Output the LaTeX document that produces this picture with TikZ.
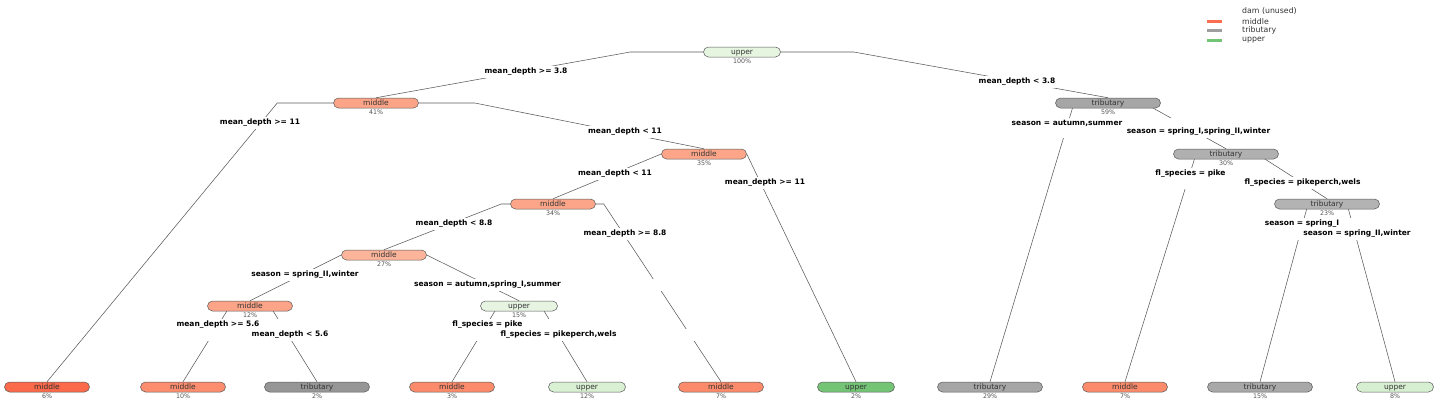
\documentclass[tikz,border=0pt]{standalone}
\usepackage{fontspec}
\setmainfont{DejaVu Sans}
\usetikzlibrary{calc}
\pgfdeclarelayer{edges}
\pgfdeclarelayer{masks}
\pgfsetlayers{edges,masks,main}
\definecolor{edgec}{HTML}{5A5A5A}
\definecolor{txtc}{HTML}{333333}
\definecolor{pctc}{HTML}{555555}
\definecolor{cU100}{HTML}{E5F5E0}
\definecolor{cM41}{HTML}{FCA487}
\definecolor{cT59}{HTML}{A6A6A6}
\definecolor{cM35}{HTML}{FCA588}
\definecolor{cT30}{HTML}{B0B0B0}
\definecolor{cT23}{HTML}{B3B3B3}
\definecolor{cM27}{HTML}{FCB49A}
\definecolor{cU15}{HTML}{E6F4E1}
\definecolor{cM6}{HTML}{FB6A4A}
\definecolor{cM10}{HTML}{FC8D6E}
\definecolor{cT2}{HTML}{969696}
\definecolor{cM3}{HTML}{FC8B6B}
\definecolor{cU12}{HTML}{D9F0D3}
\definecolor{cU2}{HTML}{74C476}
\definecolor{cT15}{HTML}{A8A8A8}
\definecolor{cU8}{HTML}{D7EFD1}
\definecolor{legM}{HTML}{FC6E50}
\definecolor{legT}{HTML}{9E9E9E}
\definecolor{legU}{HTML}{74C476}
\tikzset{
  tbox/.style={draw=black!65, line width=0.5pt, rounded corners=5pt, minimum height=10pt,
    inner sep=0pt, text height=5.6pt, text depth=1.4pt, text=txtc,
    font=\fontsize{7.5}{8}\selectfont},
  midbox/.style={tbox, minimum width=85pt},
  tribbox/.style={tbox, minimum width=105pt},
  uppbox/.style={tbox, minimum width=77pt},
  pct/.style={inner sep=0pt, text height=4.6pt, text depth=0pt, text=pctc, anchor=north,
    font=\fontsize{6.3}{7}\selectfont},
  elabtxt/.style={inner sep=0pt, text=black, font=\bfseries\fontsize{7.5}{8}\selectfont},
  edge/.style={draw=edgec, line width=0.55pt},
  legtxt/.style={anchor=west, inner sep=0pt, text=txtc, font=\fontsize{7.8}{9}\selectfont},
}
\newcommand{\tnd}[7]{%
  \node[#2, fill=#3] (#1) at (#4,#5) {#6};
  \node[pct] (#1p) at ([yshift=-1.4pt]#1.south) {#7};}
\newcommand{\elab}[4]{%
  \node[elabtxt] (#1) at (#2,#3) {#4};
  \begin{pgfonlayer}{masks}
  \fill[white] ($(#1.center)!2.5!(#1.west)+(0,-6)$) rectangle ($(#1.center)!2.5!(#1.east)+(0,6.5)$);
  \end{pgfonlayer}}
\begin{document}
\begin{tikzpicture}[x=1pt,y=-1pt]
\useasboundingbox (0,-1) rectangle (1447,414);
% internal nodes
\tnd{root}{uppbox}{cU100}{742}{51}{upper}{100\%}
\tnd{m41}{midbox}{cM41}{376}{102}{middle}{41\%}
\tnd{t59}{tribbox}{cT59}{1108}{102}{tributary}{59\%}
\tnd{m35}{midbox}{cM35}{704}{153}{middle}{35\%}
\tnd{t30}{tribbox}{cT30}{1226}{153}{tributary}{30\%}
\tnd{m34}{midbox}{cM35}{553}{203}{middle}{34\%}
\tnd{t23}{tribbox}{cT23}{1327}{203}{tributary}{23\%}
\tnd{m27}{midbox}{cM27}{384}{254}{middle}{27\%}
\tnd{m12}{midbox}{cM41}{250}{305}{middle}{12\%}
\tnd{u15}{uppbox}{cU15}{519}{305}{upper}{15\%}
% leaves
\tnd{l1}{midbox}{cM6}{47}{386}{middle}{6\%}
\tnd{l2}{midbox}{cM10}{183}{386}{middle}{10\%}
\tnd{l3}{tribbox}{cT2}{317}{386}{tributary}{2\%}
\tnd{l4}{midbox}{cM3}{452}{386}{middle}{3\%}
\tnd{l5}{uppbox}{cU12}{587}{386}{upper}{12\%}
\tnd{l6}{midbox}{cM3}{721}{386}{middle}{7\%}
\tnd{l7}{uppbox}{cU2}{856}{386}{upper}{2\%}
\tnd{l8}{tribbox}{cT59}{990}{386}{tributary}{29\%}
\tnd{l9}{midbox}{cM3}{1125}{386}{middle}{7\%}
\tnd{l10}{tribbox}{cT15}{1260}{386}{tributary}{15\%}
\tnd{l11}{uppbox}{cU8}{1395}{386}{upper}{8\%}
% edges
\begin{pgfonlayer}{edges}
\draw[edge] (root.west) -- +(-73,0) -- (m41.north);
\draw[edge] (root.east) -- +(73,0) -- (t59.north);
\draw[edge] (m41.west) -- +(-56,0) -- (l1.north);
\draw[edge] (m41.east) -- +(56,0) -- (m35.north);
\draw[edge] (m35.west) -- (m34.north);
\draw[edge] (m35.east) -- (l7.north);
\draw[edge] (m34.west) -- +(-9,0) -- (m27.north);
\draw[edge] (m34.east) -- +(8,0) -- (l6.north);
\draw[edge] (m27.west) -- (m12.north);
\draw[edge] (m27.east) -- (u15.north);
\draw[edge] ([xshift=-20pt]m12.center) -- (l2.north);
\draw[edge] ([xshift=20pt]m12.center) -- (l3.north);
\draw[edge] ([xshift=-21pt]u15.center) -- (l4.north);
\draw[edge] ([xshift=22pt]u15.center) -- (l5.north);
\draw[edge] ([xshift=-34pt]t59.center) -- (l8.north);
\draw[edge] ([xshift=36pt]t59.center) -- (t30.north);
\draw[edge] ([xshift=-30pt]t30.center) -- (l9.north);
\draw[edge] ([xshift=31pt]t30.center) -- (t23.north);
\draw[edge] ([xshift=-19pt]t23.center) -- (l10.north);
\draw[edge] ([xshift=20pt]t23.center) -- (l11.north);
\end{pgfonlayer}
% edge labels
\elab{e1}{526}{70.5}{mean\_depth >= 3.8}
\elab{e2}{1017}{80.5}{mean\_depth < 3.8}
\elab{e3}{260}{121.5}{mean\_depth >= 11}
\elab{e4}{625}{130.5}{mean\_depth < 11}
\elab{e5}{615}{172.5}{mean\_depth < 11}
\elab{e6}{765}{181.5}{mean\_depth >= 11}
\elab{e7}{454}{222.5}{mean\_depth < 8.8}
\elab{e8}{625}{232.5}{mean\_depth >= 8.8}
\elab{e9}{305}{273.5}{season = spring\_II,winter}
\elab{e10}{487.5}{283.5}{season = autumn,spring\_I,summer}
\elab{e11}{218}{324}{mean\_depth >= 5.6}
\elab{e12}{290}{333.5}{mean\_depth < 5.6}
\elab{e13}{487.5}{324}{fl\_species = pike}
\elab{e14}{558.5}{333.5}{fl\_species = pikeperch,wels}
\elab{e15}{1067}{122.5}{season = autumn,summer}
\elab{e16}{1198.5}{130.5}{season = spring\_I,spring\_II,winter}
\elab{e17}{1190.5}{172.5}{fl\_species = pike}
\elab{e18}{1302.5}{181.5}{fl\_species = pikeperch,wels}
\elab{e19}{1302}{222.5}{season = spring\_I}
\elab{e20}{1357}{232.5}{season = spring\_II,winter}
% legend
\node[legtxt] (lg0) at (1242,10.5) {dam (unused)};
\node[legtxt] (lg1) at (1242,20.3) {middle};
\node[legtxt] (lg2) at (1242,29.8) {tributary};
\node[legtxt] (lg3) at (1242,39.5) {upper};
\draw[line width=3pt, legM] (1207,20.3) -- (1222,20.3);
\draw[line width=3pt, legT] (1207,29.5) -- (1222,29.5);
\draw[line width=3pt, legU] (1207,39) -- (1222,39);
\end{tikzpicture}
\end{document}
